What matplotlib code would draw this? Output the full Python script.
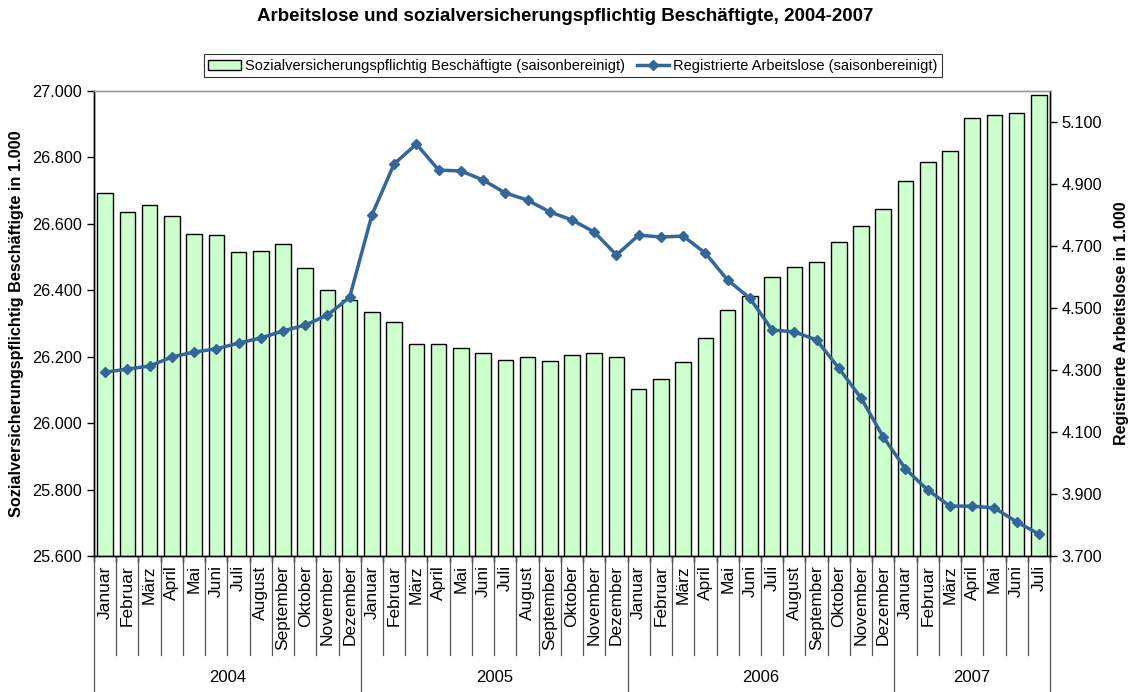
import numpy as np
import matplotlib
matplotlib.use("Agg")
import matplotlib.pyplot as plt
from matplotlib.ticker import FuncFormatter, FixedLocator
import matplotlib.transforms as mtransforms

plt.rcParams['font.family'] = ['Liberation Sans', 'DejaVu Sans']

months = ["Januar", "Februar", "März", "April", "Mai", "Juni", "Juli", "August",
          "September", "Oktober", "November", "Dezember"]
years = ["2004", "2005", "2006", "2007"]
months_per_year = [12, 12, 12, 7]

# Sozialversicherungspflichtig Beschäftigte (saisonbereinigt), in 1.000
beschaeftigte = [26693, 26636, 26657, 26624, 26569, 26566, 26515, 26518, 26539, 26467, 26400, 26371,
                 26335, 26304, 26238, 26238, 26226, 26211, 26190, 26199, 26187, 26205, 26211, 26199,
                 26103, 26133, 26184, 26256, 26341, 26383, 26440, 26470, 26485, 26545, 26594, 26645,
                 26729, 26786, 26819, 26919, 26928, 26934, 26988]
# Registrierte Arbeitslose (saisonbereinigt), in 1.000
arbeitslose = [4293, 4303, 4313, 4342, 4358, 4368, 4387, 4403, 4426, 4445, 4477, 4535,
               4800, 4965, 5029, 4945, 4942, 4913, 4871, 4848, 4810, 4784, 4745, 4671,
               4735, 4729, 4732, 4677, 4590, 4532, 4429, 4423, 4397, 4306, 4210, 4084,
               3981, 3913, 3861, 3861, 3855, 3810, 3771]

month_labels = []
for n in months_per_year:
    month_labels += months[:n]
x = np.arange(len(beschaeftigte))


def de_fmt(v, pos):
    return f"{v:,.0f}".replace(",", ".")


fig = plt.figure(figsize=(11.3, 6.92), dpi=100)
ax = fig.add_axes([0.0832, 0.1965, 0.8460, 0.6720])
ax2 = ax.twinx()

bars = ax.bar(x, beschaeftigte, width=0.7, color="#CCFFCC", edgecolor="black",
              linewidth=1.0, label="Sozialversicherungspflichtig Beschäftigte (saisonbereinigt)")
line, = ax2.plot(x, arbeitslose, color="#336699", linewidth=2.5, marker="D",
                 markersize=5.5, label="Registrierte Arbeitslose (saisonbereinigt)")

ax.set_xlim(-0.5, len(x) - 0.5)
ax.set_ylim(25600, 27000)
ax.set_yticks(np.arange(25600, 27001, 200))
ax.yaxis.set_major_formatter(FuncFormatter(de_fmt))
ax2.set_ylim(3700, 5200)
ax2.set_yticks(np.arange(3700, 5101, 200))
ax2.yaxis.set_major_formatter(FuncFormatter(de_fmt))

for a in (ax, ax2):
    a.tick_params(axis="y", labelsize=11.7, direction="out", length=5, width=1)
    for s in a.spines.values():
        s.set_linewidth(1)
ax.spines["top"].set_color("#999999")
ax2.spines["top"].set_color("#999999")

ax.set_ylabel("Sozialversicherungspflichtig Beschäftigte in 1.000", fontsize=11.7,
              fontweight="bold", labelpad=6)
ax2.set_ylabel("Registrierte Arbeitslose in 1.000", fontsize=11.5,
               fontweight="bold", labelpad=8)

# category axis with month labels and year groups
ax.xaxis.set_major_locator(FixedLocator(np.arange(-0.5, len(x), 1.0)))
ax.tick_params(axis="x", labelbottom=False, direction="out", length=4, width=1)
trans = mtransforms.blended_transform_factory(ax.transData, ax.transAxes)
for i, lab in enumerate(month_labels):
    ax.text(i, -0.02, lab, rotation=90, ha="center", va="top", fontsize=12.5,
            transform=trans)

boundaries = np.arange(-0.5, len(x), 1.0)
year_edges = np.concatenate([[0], np.cumsum(months_per_year)]) - 0.5
for b in boundaries:
    y_end = -0.305 if b in year_edges else -0.212
    ax.plot([b, b], [0, y_end], color="#555555", linewidth=0.9,
            transform=trans, clip_on=False)
for k, yr in enumerate(years):
    mid = (year_edges[k] + year_edges[k + 1]) / 2
    ax.text(mid, -0.262, yr, ha="center", va="center", fontsize=12, transform=trans)

fig.suptitle("Arbeitslose und sozialversicherungspflichtig Beschäftigte, 2004-2007",
             fontsize=13.5, fontweight="bold", y=0.988)

leg = fig.legend([bars, line], [bars.get_label(), line.get_label()], loc="center",
                 bbox_to_anchor=(0.507, 0.905), ncol=2, fontsize=10.5, frameon=True,
                 fancybox=False, edgecolor="black", handlelength=2.2,
                 columnspacing=0.8, borderpad=0.3, handletextpad=0.3)
leg.get_frame().set_linewidth(0.8)

fig.savefig("out.png", dpi=100)
